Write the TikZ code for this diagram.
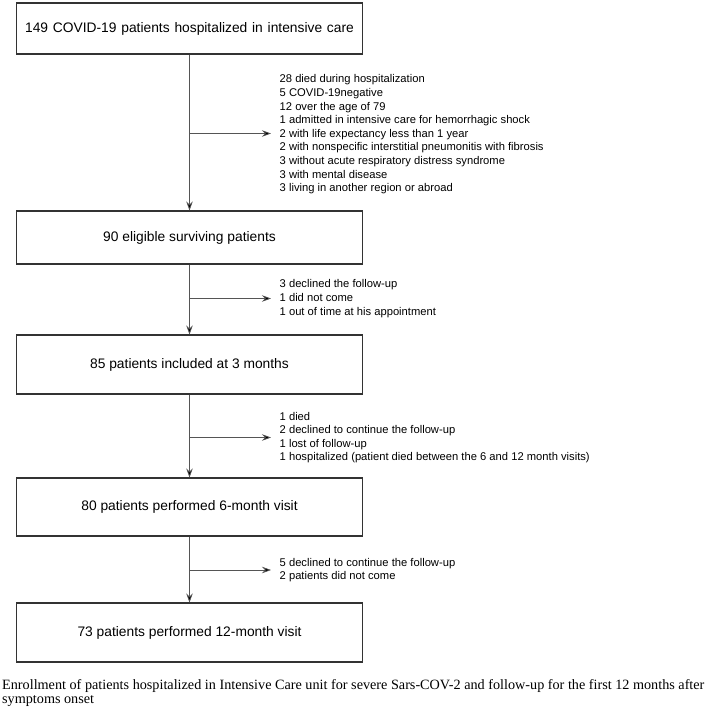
\documentclass[tikz,border=0pt]{standalone}
\usepackage{fontspec}
\setmainfont{Liberation Serif}
\newfontfamily\arialf{Liberation Sans}
\usetikzlibrary{arrows.meta}
\definecolor{boxline}{HTML}{333333}
\definecolor{conline}{HTML}{555555}
\tikzset{
  flowbox/.style={draw=boxline, line width=1.1pt, minimum width=346pt, inner sep=0pt,
    font=\arialf\fontsize{13.8}{16}\selectfont},
  sidetext/.style={anchor=west, align=left, inner xsep=8.5pt, inner ysep=0pt,
    font=\arialf\fontsize{11.2}{13.6}\selectfont},
  conn/.style={draw=conline, line width=0.7pt, -{Stealth[length=9pt,width=6.5pt,inset=3pt,fill=black]}}
}
\begin{document}
\begin{tikzpicture}[x=1pt,y=-1pt]
\useasboundingbox (0,0) rectangle (708,715);
% boxes
\node[flowbox, minimum height=51pt] (b1) at (189.5,28.5) {\spaceskip=4.8pt\relax 149 COVID-19 patients hospitalized in intensive care};
\node[flowbox, minimum height=53pt] (b2) at (189.5,237.5) {90 eligible surviving patients};
\node[flowbox, minimum height=59pt] (b3) at (189.5,364.5) {85 patients included at 3 months};
\node[flowbox, minimum height=58pt] (b4) at (189.5,507) {80 patients performed 6-month visit};
\node[flowbox, minimum height=59pt] (b5) at (189.5,632.5) {73 patients performed 12-month visit};
% side texts
\node[sidetext] (t1) at (271,134.5) {28 died during hospitalization\\5 COVID-19negative\\12 over the age of 79\\1 admitted in intensive care for hemorrhagic shock\\2 with life expectancy less than 1 year\\2 with nonspecific interstitial pneumonitis with fibrosis\\3 without acute respiratory distress syndrome\\3 with mental disease\\3 living in another region or abroad};
\node[sidetext] (t2) at (271,298.5) {3 declined the follow-up\\1 did not come\\1 out of time at his appointment};
\node[sidetext] (t3) at (271,437.5) {1 died\\2 declined to continue the follow-up\\1 lost of follow-up\\1 hospitalized (patient died between the 6 and 12 month visits)};
\node[sidetext] (t4) at (271,570) {5 declined to continue the follow-up\\2 patients did not come};
% junctions
\coordinate (j1) at (189.5,133.5);
\coordinate (j2) at (189.5,298.5);
\coordinate (j3) at (189.5,437.5);
\coordinate (j4) at (189.5,570);
% connectors
\draw[conn] (b1) -- (b2);
\draw[conn] (b2) -- (b3);
\draw[conn] (b3) -- (b4);
\draw[conn] (b4) -- (b5);
\draw[conn] (j1) -- (j1 -| t1.west);
\draw[conn] (j2) -- (j2 -| t2.west);
\draw[conn] (j3) -- (j3 -| t3.west);
\draw[conn] (j4) -- (j4 -| t4.west);
% caption
\node[anchor=base west, align=left, inner sep=0pt, font=\fontsize{14.2}{13.5}\selectfont] (cap) at (2,703)
  {Enrollment of patients hospitalized in Intensive Care unit for severe Sars-COV-2 and follow-up for the first 12 months after\\symptoms onset};
\end{tikzpicture}
\end{document}
